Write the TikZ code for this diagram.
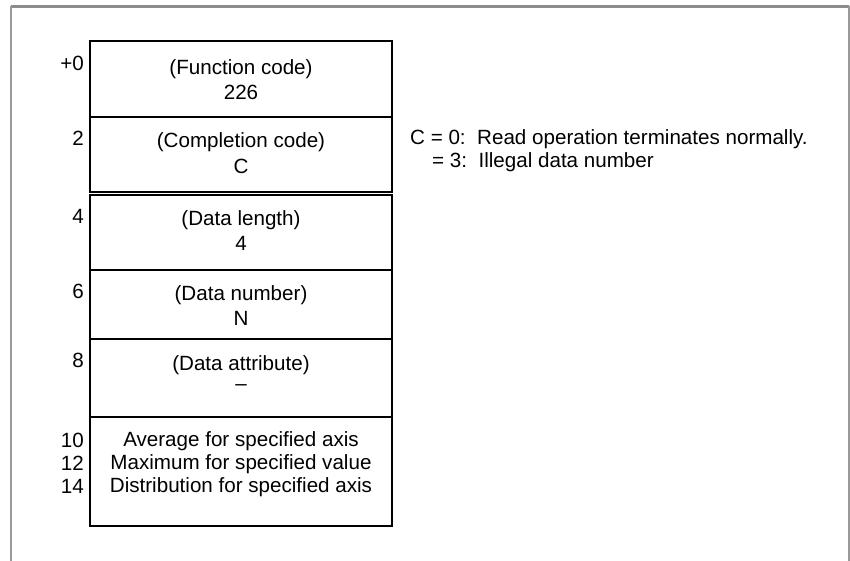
\documentclass[tikz,border=0pt]{standalone}
\usepackage{fontspec}
\setmainfont{Liberation Sans}
\begin{document}
\begin{tikzpicture}[x=1pt,y=-1pt,
  rowbox/.style={draw=black, line width=1.3pt, minimum width=302pt, anchor=north west, inner sep=0pt, outer sep=0pt},
  txt/.style={font=\fontsize{20.6}{23.5}\selectfont, align=center, inner sep=0pt, anchor=center},
  lbl/.style={font=\fontsize{20.6}{23.5}\selectfont, align=right, inner sep=0pt, anchor=east},
  note/.style={font=\fontsize{20.6}{23.5}\selectfont, inner sep=0pt, anchor=west}]
\useasboundingbox (0,0) rectangle (850,561);
% frame
\draw[color=black!45, line width=3pt] (11,7) -- (849,7);
\draw[color=black!40, line width=2pt] (11,6) -- (11,561);
\draw[color=black!40, line width=1.5pt] (849,6) -- (849,561);
% rows
\node[rowbox, minimum height=76pt] (r1) at (90,41) {};
\node[rowbox, minimum height=75pt] (r2) at (90,117) {};
\node[rowbox, minimum height=75pt] (r3) at (90,195) {};
\node[rowbox, minimum height=69pt] (r4) at (90,270) {};
\node[rowbox, minimum height=78pt] (r5) at (90,339) {};
\node[rowbox, minimum height=109pt] (r6) at (90,417) {};
% texts
\node[txt] (t1) at (241,69) {(Function code)};
\node[txt] (t1b) at (241,92) {226};
\node[txt] (t2) at (241,142) {(Completion code)};
\node[txt] (t2b) at (241,166) {C};
\node[txt] (t3) at (241,220) {(Data length)};
\node[txt] (t3b) at (241,243) {4};
\node[txt] (t4) at (241,295) {(Data number)};
\node[txt] (t4b) at (241,318) {N};
\node[txt] (t5) at (241,365) {(Data attribute)};
\node[txt] (t5b) at (241,388) {--};
\node[txt] (t6) at (241,441) {Average for specified axis};
\node[txt] (t6b) at (241,464) {Maximum for specified value};
\node[txt] (t6c) at (241,487) {Distribution for specified axis};
% offsets
\node[lbl] (l0) at (84,63) {+0};
\node[lbl] (l2) at (84,138) {2};
\node[lbl] (l4) at (84,216) {4};
\node[lbl] (l6) at (84,291) {6};
\node[lbl] (l8) at (84,360) {8};
\node[lbl] (l10) at (84,440) {10};
\node[lbl] (l12) at (84,463) {12};
\node[lbl] (l14) at (84,486) {14};
% note
\node[note] (n1) at (410,139) {C = 0:\ \ Read operation terminates normally.};
\node[note] (n2) at (432,162) {= 3:\ \ Illegal data number};
\end{tikzpicture}
\end{document}
